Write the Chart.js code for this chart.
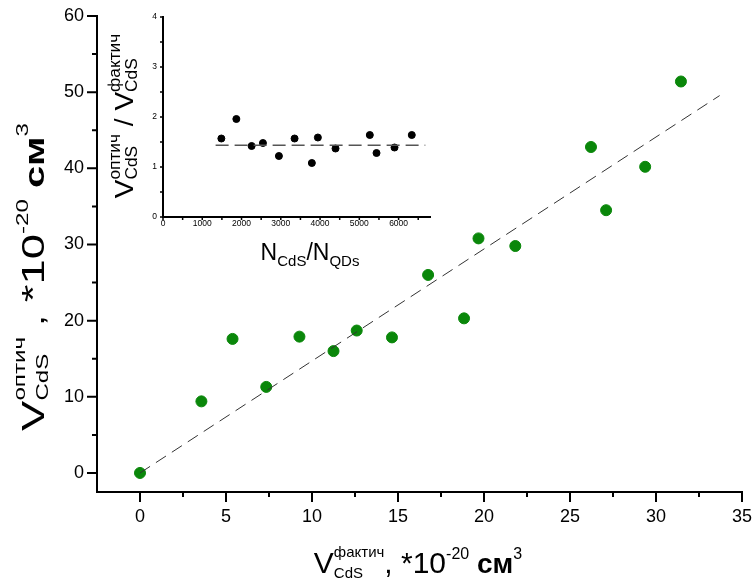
<!DOCTYPE html>
<html>
<head>
<meta charset="utf-8">
<script src="https://cdn.jsdelivr.net/npm/chart.js@4.4.1/dist/chart.umd.min.js"></script>
<style>
  html, body { margin: 0; padding: 0; background: #fff; }
  #wrap { position: relative; width: 754px; height: 581px; }
  #mainChart { position: absolute; left: 0; top: 0; }
  #insetChart { position: absolute; left: 100px; top: 0; }
</style>
</head>
<body>
<div id="wrap">
  <canvas id="mainChart" width="754" height="581"></canvas>
  <canvas id="insetChart" width="345" height="275"></canvas>
</div>
<script>
// === DATA: main plot (V фактич vs V оптич, *10^-20 см^3) ===
const mainX = [0, 3.57, 5.38, 7.34, 9.27, 11.25, 12.6, 14.65, 16.75, 18.84, 19.68, 21.82, 26.22, 27.1, 29.37, 31.45];
const mainY = [0, 9.4, 17.6, 11.3, 17.9, 16.0, 18.7, 17.8, 26.0, 20.3, 30.8, 29.8, 42.8, 34.5, 40.2, 51.4];
const fitX = [0, 33.7];
const fitY = [0, 49.55];
const mainXTicks = [0, 5, 10, 15, 20, 25, 30, 35];
const mainYTicks = [0, 10, 20, 30, 40, 50, 60];

// === DATA: inset (ratio vs N_CdS/N_QDs) ===
const insetX = [1486, 1868, 2257, 2545, 2952, 3351, 3791, 3944, 4394, 5267, 5438, 5896, 6336];
const insetY = [1.57, 1.96, 1.42, 1.48, 1.22, 1.57, 1.08, 1.59, 1.37, 1.64, 1.28, 1.39, 1.64];
const insetFitX = [1340, 6680];
const insetFitY = [1.437, 1.437];
const insetXTicks = [0, 1000, 2000, 3000, 4000, 5000, 6000];
const insetYTicks = [0, 1, 2, 3, 4];

const FONT = 'Arial, "Liberation Sans", sans-serif';
const fnt = (size, bold) => (bold ? 'bold ' : '') + size + 'px ' + FONT;
const pts = (xs, ys) => xs.map((x, i) => ({ x: x, y: ys[i] }));

// minor ticks half way between majors, up to the axis max
function minorsOf(majors, max) {
    const step = majors[1] - majors[0];
    const out = [];
    for (let v = majors[0] + step / 2; v <= max + 1e-9; v += step) out.push(v);
    return out;
}

// === RICH TEXT (sub/sup) ===
function partWidth(ctx, p) {
    if (p.t !== undefined) { ctx.font = fnt(p.size, p.bold); return ctx.measureText(p.t).width; }
    ctx.font = fnt(p.size);
    return Math.max(ctx.measureText(p.sup).width, ctx.measureText(p.sub).width);
}
function drawRich(ctx, parts, cx, baseY, rot, stretch) {
    ctx.save();
    ctx.translate(cx, baseY);
    if (rot) ctx.rotate(rot);
    if (stretch) ctx.scale(stretch, 1);
    ctx.fillStyle = '#000';
    ctx.textBaseline = 'alphabetic';
    ctx.textAlign = 'left';
    const widths = parts.map(p => partWidth(ctx, p));
    let x = -widths.reduce((s, w) => s + w, 0) / 2;
    parts.forEach((p, i) => {
        if (p.t !== undefined) {
            ctx.font = fnt(p.size, p.bold);
            ctx.fillText(p.t, x, p.dy || 0);
        } else {
            ctx.font = fnt(p.size);
            ctx.fillText(p.sup, x, p.supDy);
            ctx.fillText(p.sub, x, p.subDy);
        }
        x += widths[i];
    });
    ctx.restore();
}

// === TICK MARKS (major + minor, outward) ===
function drawTicks(chart, id, majors, minors, majorLen, minorLen, width) {
    const s = chart.scales[id];
    const ctx = chart.ctx;
    ctx.save();
    ctx.strokeStyle = '#000';
    ctx.lineWidth = width;
    ctx.beginPath();
    const one = (v, len) => {
        const p = s.getPixelForValue(v);
        if (s.isHorizontal()) { ctx.moveTo(p, s.top); ctx.lineTo(p, s.top + len); }
        else { ctx.moveTo(s.right, p); ctx.lineTo(s.right - len, p); }
    };
    majors.forEach(v => one(v, majorLen));
    minors.forEach(v => one(v, minorLen));
    ctx.stroke();
    ctx.restore();
}

function axis(min, max, tickVals, fontSize, pad, fitSize, horizontal) {
    return {
        type: 'linear',
        position: horizontal ? 'bottom' : 'left',
        min: min,
        max: max,
        afterBuildTicks: s => { s.ticks = tickVals.map(v => ({ value: v })); },
        afterFit: s => {
            if (horizontal) s.height = fitSize; else s.width = fitSize;
            // let layout.padding alone decide the plot edges
            s.paddingLeft = s.paddingRight = s.paddingTop = s.paddingBottom = 0;
        },
        grid: { display: false, drawTicks: false },
        border: { display: true, color: '#000', width: 2 },
        ticks: {
            color: '#000',
            font: { family: FONT, size: fontSize },
            padding: pad,
            maxRotation: 0,
            autoSkip: false,
            callback: v => String(v)
        }
    };
}

// === MAIN CHART ===
const mainPlugin = {
    id: 'mainDecor',
    afterDraw(chart) {
        drawTicks(chart, 'x', mainXTicks, minorsOf(mainXTicks, 35), 10, 5, 2);
        drawTicks(chart, 'y', mainYTicks, minorsOf(mainYTicks, 60), 10, 5, 2);
        const ctx = chart.ctx;
        drawRich(ctx, [
            { t: 'V', size: 30 },
            { sup: 'фактич', sub: 'CdS', size: 15, supDy: -16, subDy: 5 },
            { t: ', *10', size: 30 },
            { t: '-20', size: 16, dy: -14 },
            { t: ' см', size: 28, bold: true },
            { t: '3', size: 16, dy: -14 }
        ], 418, 573, 0);
        drawRich(ctx, [
            { t: 'V', size: 32 },
            { sup: 'оптич', sub: 'CdS', size: 17, supDy: -19, subDy: 4 },
            { t: ' ,', size: 28 },
            { t: ' *10', size: 32 },
            { t: '-20', size: 17, dy: -16 },
            { t: ' см', size: 28, bold: true },
            { t: '3', size: 17, dy: -16 }
        ], 44, 277, -Math.PI / 2, 1.42);
    }
};

new Chart(document.getElementById('mainChart'), {
    type: 'scatter',
    data: {
        datasets: [
            {
                type: 'line',
                data: pts(fitX, fitY),
                borderColor: '#333',
                borderWidth: 1,
                borderDash: [12, 7],
                pointRadius: 0,
                fill: false
            },
            {
                data: pts(mainX, mainY),
                backgroundColor: '#0a870a',
                borderColor: '#0a870a',
                pointRadius: 5.5,
                pointHoverRadius: 5.5
            }
        ]
    },
    options: {
        responsive: false,
        animation: false,
        layout: { padding: { top: 16, right: 12, left: 0, bottom: 0 } },
        plugins: { legend: { display: false }, tooltip: { enabled: false } },
        scales: {
            x: axis(-2.5, 35, mainXTicks, 18, 14, 89, true),
            y: axis(-2.5, 60, mainYTicks, 18, 13, 97, false)
        }
    },
    plugins: [mainPlugin]
});

// === INSET CHART ===
const insetPlugin = {
    id: 'insetDecor',
    afterDraw(chart) {
        drawTicks(chart, 'x', insetXTicks, minorsOf(insetXTicks, 6800), 3, 3, 1.5);
        drawTicks(chart, 'y', insetYTicks, minorsOf(insetYTicks, 4), 3, 3, 1.5);
        const ctx = chart.ctx;
        drawRich(ctx, [
            { t: 'N', size: 23 },
            { t: 'CdS', size: 15, dy: 6 },
            { t: '/', size: 23 },
            { t: 'N', size: 23 },
            { t: 'QDs', size: 15, dy: 6 }
        ], 210, 260, 0);
        drawRich(ctx, [
            { t: 'V', size: 26 },
            { sup: 'оптич', sub: 'CdS', size: 16, supDy: -13, subDy: 4 },
            { t: ' / ', size: 26 },
            { t: 'V', size: 26 },
            { sup: 'фактич', sub: 'CdS', size: 16, supDy: -13, subDy: 4 }
        ], 33, 116, -Math.PI / 2, 1.08);
    }
};

new Chart(document.getElementById('insetChart'), {
    type: 'scatter',
    data: {
        datasets: [
            {
                type: 'line',
                data: pts(insetFitX, insetFitY),
                borderColor: '#555',
                borderWidth: 1.5,
                borderDash: [13, 6],
                pointRadius: 0,
                fill: false
            },
            {
                data: pts(insetX, insetY),
                backgroundColor: '#000',
                borderColor: '#000',
                pointRadius: 3.5,
                pointHoverRadius: 3.5
            }
        ]
    },
    options: {
        responsive: false,
        animation: false,
        layout: { padding: { top: 17, right: 15, left: 0, bottom: 0 } },
        plugins: { legend: { display: false }, tooltip: { enabled: false } },
        scales: {
            x: axis(0, 6800, insetXTicks, 8.5, 2, 58, true),
            y: axis(0, 4, insetYTicks, 8.5, 6, 63, false)
        }
    },
    plugins: [insetPlugin]
});
</script>
</body>
</html>
